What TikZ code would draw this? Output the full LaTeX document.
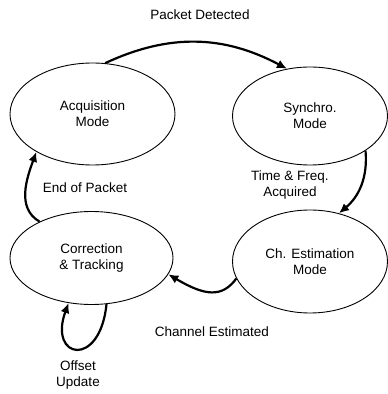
\documentclass[tikz,border=0pt]{standalone}
\usepackage{fontspec}
\setmainfont{Liberation Sans}
\usepackage{tikz}
\usetikzlibrary{arrows.meta, shapes.geometric, positioning}

\begin{document}
\begin{tikzpicture}[
		x=1pt, y=1pt,
		every node/.style={font=\fontsize{13.5}{16}\selectfont, align=center},
		modenode/.style={draw, ellipse, line width=0.9pt, inner sep=0pt},
		trans/.style={-{Latex[length=10pt, width=9pt]}, line width=2.2pt},
		lbl/.style={inner sep=0pt}
		]
		\useasboundingbox (0,0) rectangle (388,394);
		
		% Modes
		\node[modenode, minimum width=165pt, minimum height=102pt] (acq) at (92.5,280) {Acquisition\\Mode};
		\node[modenode, minimum width=155pt, minimum height=98pt] (syn) at (310,278) {Synchro.\\Mode};
		\node[modenode, minimum width=155pt, minimum height=103pt] (est) at (310,132.5) {Ch. Estimation\\Mode};
		\node[modenode, minimum width=163pt, minimum height=93pt] (corr) at (91.5,136) {Correction\\\& Tracking};
		
		% Labels
		\node[lbl] (detected) at (200,379) {Packet Detected};
		\node[lbl] (acquired) at (290,209) {Time \& Freq.\\Acquired};
		\node[lbl] (endpkt) at (85,206) {End of Packet};
		\node[lbl] (estimated) at (212,62) {Channel Estimated};
		\node[lbl] (offset) at (78,19) {Offset\\Update};
		
		% Transitions
		\draw[trans] (acq.76) to[out=25, in=152] (syn.116);
		\draw[trans] (syn.-32) to[out=-85, in=40] (est.59);
		\draw[trans] (est.193) .. controls (222,96) and (205,98) .. (corr.-12);
		\draw[trans] (corr.145) to[out=150, in=-110] (acq.214);
		\draw[trans] (corr.288) .. controls (100,25) and (48,35) .. (corr.243);
		
	\end{tikzpicture}
\end{document}
